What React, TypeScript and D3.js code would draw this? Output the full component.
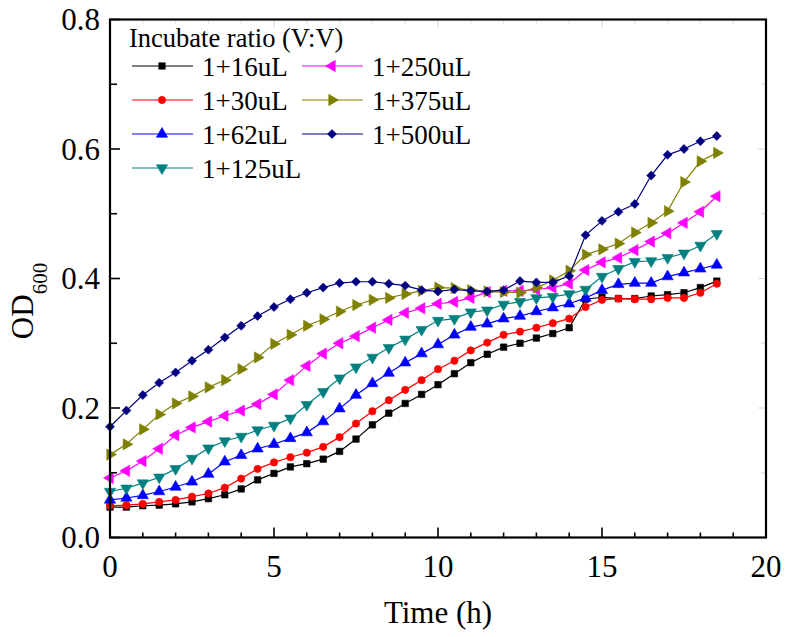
import React from "react";
import * as d3 from "d3";

const times: number[] = d3.range(0, 18.51, 0.5);

const s16 = [0.047, 0.047, 0.049, 0.050, 0.052, 0.055, 0.060, 0.066, 0.075, 0.089, 0.099, 0.109, 0.114, 0.121,
  0.133, 0.152, 0.174, 0.192, 0.207, 0.221, 0.236, 0.253, 0.270, 0.283, 0.294, 0.300, 0.308, 0.315, 0.324,
  0.368, 0.371, 0.369, 0.369, 0.373, 0.375, 0.378, 0.386, 0.396];
const s30 = [0.049, 0.050, 0.052, 0.055, 0.058, 0.063, 0.068, 0.077, 0.091, 0.106, 0.116, 0.124, 0.131, 0.140,
  0.155, 0.176, 0.195, 0.212, 0.228, 0.243, 0.260, 0.273, 0.289, 0.301, 0.313, 0.318, 0.324, 0.331, 0.338,
  0.356, 0.367, 0.369, 0.368, 0.368, 0.370, 0.370, 0.378, 0.392];
const s62 = [0.058, 0.061, 0.065, 0.071, 0.078, 0.086, 0.098, 0.117, 0.127, 0.137, 0.144, 0.153, 0.162, 0.179,
  0.199, 0.220, 0.238, 0.254, 0.270, 0.284, 0.298, 0.313, 0.325, 0.330, 0.338, 0.342, 0.349, 0.355, 0.361,
  0.370, 0.382, 0.391, 0.393, 0.393, 0.403, 0.409, 0.415, 0.421];
const s125 = [0.071, 0.076, 0.084, 0.093, 0.106, 0.122, 0.138, 0.149, 0.156, 0.166, 0.173, 0.184, 0.205, 0.225,
  0.246, 0.263, 0.278, 0.293, 0.306, 0.321, 0.335, 0.338, 0.348, 0.351, 0.360, 0.364, 0.370, 0.372, 0.376,
  0.383, 0.403, 0.415, 0.426, 0.427, 0.432, 0.439, 0.451, 0.469];
const s250 = [0.092, 0.103, 0.118, 0.137, 0.158, 0.170, 0.179, 0.188, 0.196, 0.206, 0.221, 0.243, 0.265, 0.284,
  0.300, 0.311, 0.324, 0.336, 0.347, 0.354, 0.361, 0.364, 0.370, 0.379, 0.381, 0.381, 0.383, 0.386, 0.392,
  0.413, 0.425, 0.432, 0.444, 0.457, 0.470, 0.486, 0.503, 0.527];
const s375 = [0.128, 0.144, 0.167, 0.190, 0.207, 0.218, 0.232, 0.243, 0.260, 0.278, 0.299, 0.313, 0.327, 0.337,
  0.349, 0.359, 0.367, 0.370, 0.376, 0.381, 0.386, 0.385, 0.382, 0.380, 0.379, 0.378, 0.386, 0.397, 0.412,
  0.437, 0.445, 0.454, 0.471, 0.486, 0.504, 0.549, 0.581, 0.594];
const s500 = [0.171, 0.196, 0.220, 0.239, 0.255, 0.273, 0.290, 0.309, 0.327, 0.342, 0.356, 0.368, 0.378, 0.386,
  0.393, 0.395, 0.395, 0.392, 0.389, 0.382, 0.380, 0.383, 0.381, 0.380, 0.382, 0.396, 0.394, 0.394, 0.404,
  0.467, 0.489, 0.503, 0.515, 0.559, 0.591, 0.600, 0.612, 0.620];

const seriesNames = ["1+16uL", "1+30uL", "1+62uL", "1+125uL", "1+250uL", "1+375uL", "1+500uL"];
const seriesValues = [s16, s30, s62, s125, s250, s375, s500];
const seriesColors = ["#000000", "#ff0000", "#0000ff", "#008080", "#ff00ff", "#808000", "#000080"];
const seriesShapes = ["square", "circle", "up", "down", "left", "right", "diamond"];

const xTicksMajor = [0, 5, 10, 15, 20];
const yTicksMajor = [0, 0.2, 0.4, 0.6, 0.8];
const legendTitle = "Incubate ratio (V:V)";
const xTitle = "Time (h)";

const W = 786, H = 637;
const left = 110, right = 766, top = 19.5, bottom = 537.5;
const FONT = "'Liberation Serif', 'Times New Roman', serif";

function Marker({ shape, color, x, y }: { shape: string; color: string; x: number; y: number }) {
  let type: d3.SymbolType = d3.symbolTriangle;
  let rot = 0;
  let size = 55;
  if (shape === "square") { type = d3.symbolSquare; size = 42; }
  else if (shape === "circle") { type = d3.symbolCircle; size = 42; }
  else if (shape === "up") { rot = 0; }
  else if (shape === "down") { rot = 180; }
  else if (shape === "left") { rot = -90; }
  else if (shape === "right") { rot = 90; }
  else if (shape === "diamond") { type = d3.symbolSquare; rot = 45; size = 40; }
  const p = d3.symbol(type, size)() || "";
  return <path d={p} transform={`translate(${x},${y}) rotate(${rot})`} fill={color} stroke={color} strokeWidth={0.6} />;
}

export default function App() {
  const x = d3.scaleLinear().domain([0, 20]).range([left, right]);
  const y = d3.scaleLinear().domain([0, 0.8]).range([bottom, top]);
  const line = d3.line<number>().x((_, i) => x(times[i])).y((d) => y(d));
  const xMinor = d3.range(0, 20.01, 1);
  const yMinor = d3.range(0, 0.801, 0.1);

  const legendRows = [
    [0, 4], [1, 5], [2, 6], [3, -1],
  ];
  const rowY = [66, 100, 134, 168];

  return (
    <svg width={W} height={H} style={{ position: "absolute", left: 0, top: 0, background: "#fff" }} fontFamily={FONT}>
      <rect x={0} y={0} width={W} height={H} fill="#fff" />
      {/* faint mirrored ticks */}
      {xMinor.map((t) => (
        <line key={"tx" + t} x1={x(t)} x2={x(t)} y1={top} y2={top + (t % 5 === 0 ? 8 : 4)} stroke="#d8d8d8" strokeWidth={1} />
      ))}
      {yMinor.map((v, i) => (
        <line key={"ty" + i} x1={right} x2={right - (i % 2 === 0 ? 8 : 5)} y1={y(v)} y2={y(v)} stroke="#d8d8d8" strokeWidth={1} />
      ))}
      {/* series */}
      {seriesValues.map((vals, si) => (
        <g key={"s" + si}>
          <path d={line(vals) || ""} fill="none" stroke={seriesColors[si]} strokeWidth={1.2} />
          {vals.map((v, i) => (
            <Marker key={i} shape={seriesShapes[si]} color={seriesColors[si]} x={x(times[i])} y={y(v)} />
          ))}
        </g>
      ))}
      {/* frame */}
      <rect x={left} y={top} width={right - left} height={bottom - top} fill="none" stroke="#000" strokeWidth={2.2} />
      {/* x ticks */}
      {xMinor.map((t) => (
        <line key={"x" + t} x1={x(t)} x2={x(t)} y1={bottom} y2={bottom - (t % 5 === 0 ? 10 : 5)} stroke="#000" strokeWidth={1.6} />
      ))}
      {xTicksMajor.map((t) => (
        <text key={"xl" + t} x={x(t)} y={577} textAnchor="middle" fontSize={31}>{t}</text>
      ))}
      {/* y ticks */}
      {yMinor.map((v, i) => (
        <line key={"y" + i} x1={left} x2={left + (i % 2 === 0 ? 10 : 7)} y1={y(v)} y2={y(v)} stroke="#000" strokeWidth={1.6} />
      ))}
      {yTicksMajor.map((v) => (
        <text key={"yl" + v} x={100} y={y(v) + 10.5} textAnchor="end" fontSize={31}>{v.toFixed(1)}</text>
      ))}
      {/* axis titles */}
      <text x={(left + right) / 2} y={623} textAnchor="middle" fontSize={31}>{xTitle}</text>
      <text transform={`translate(33,301) rotate(-90)`} textAnchor="middle" fontSize={31}>
        OD<tspan fontSize={21} dy={14}>600</tspan>
      </text>
      {/* legend */}
      <text x={129} y={47} fontSize={26.5}>{legendTitle}</text>
      {legendRows.map((row, ri) =>
        row.map((si, ci) => {
          if (si < 0) return null;
          const lx = ci === 0 ? 132 : 302;
          return (
            <g key={"lg" + si}>
              <line x1={lx} x2={lx + 61} y1={rowY[ri]} y2={rowY[ri]} stroke={seriesColors[si]} strokeWidth={1.2} />
              <Marker shape={seriesShapes[si]} color={seriesColors[si]} x={lx + 30} y={rowY[ri]} />
              <text x={lx + 70} y={rowY[ri] + 9.5} fontSize={27}>{seriesNames[si]}</text>
            </g>
          );
        })
      )}
    </svg>
  );
}
